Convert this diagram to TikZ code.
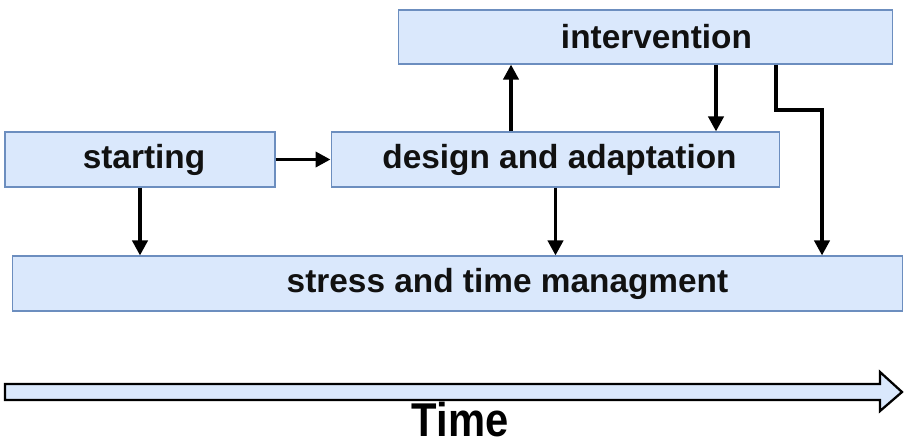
\documentclass[tikz,border=0pt]{standalone}
\usepackage{fontspec}
\setmainfont{Liberation Sans}
\usetikzlibrary{arrows.meta,positioning}
\definecolor{tlfill}{HTML}{DAE8FC}
\definecolor{tlline}{HTML}{6C8EBF}
\definecolor{tlink}{HTML}{111111}
\tikzset{
  tl/.style={font=\bfseries\fontsize{19}{22}\selectfont, text=tlink},
  tlbox/.style={draw=tlline, fill=tlfill, line width=0.6pt, inner sep=0pt,
    minimum height=1.1cm, align=center},
  tlarr/.style={-{Triangle[length=3mm,width=3mm]}, line width=2.2pt, draw=black},
  tlaxis/.style={draw=black, fill=tlfill, line width=1.3pt, line join=miter},
}
% labels sit a little right of the box centre
\newcommand{\tlpad}[1]{\hspace*{#1}}
\begin{document}
\begin{tikzpicture}[tl, x=0.02cm, y=-0.02cm]
  \useasboundingbox (0,0) rectangle (905,444);
  \node[tlbox, minimum width=9.9cm, minimum height=1.08cm] (interv) at (645.5,37) {\tlpad{0.44cm}intervention};
  \node[tlbox, minimum width=5.4cm] (start) at (140,159.5) {\tlpad{0.16cm}starting};
  \node[tlbox, minimum width=8.98cm] (design) at (555.5,159.5) {\tlpad{0.16cm}design and adaptation};
  \node[tlbox, minimum width=17.82cm] (stress) at (457.5,283.5) {\tlpad{2cm}stress and time managment};
  % time axis
  \draw[tlaxis] (5,384) -- (880,384) -- (880,372) -- (902,392) -- (880,411)
    -- (880,400) -- (5,400) -- cycle;
  \node[font=\bfseries\fontsize{27}{30}\selectfont, text=black, xscale=0.88] (time) at (460,420) {Time};
  \draw[tlarr] (start) -- (design);
  \draw[tlarr] (start.south) -- (start.south |- stress.north);
  \draw[tlarr] (511,0 |- design.north) -- (511,0 |- interv.south);
  \draw[tlarr] (716,0 |- interv.south) -- (716,0 |- design.north);
  \draw[tlarr] (design.south) -- (design.south |- stress.north);
  \draw[tlarr] (776,0 |- interv.south) |- (822,110) -- (822,0 |- stress.north);
\end{tikzpicture}
\end{document}
